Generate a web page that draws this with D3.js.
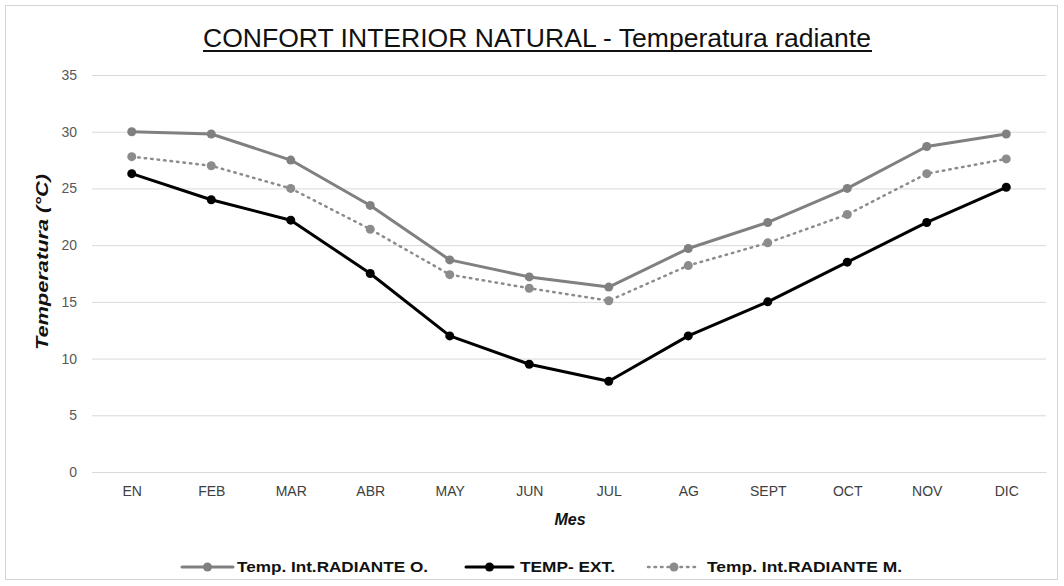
<!DOCTYPE html>
<html>
<head>
<meta charset="utf-8">
<script src="https://cdn.jsdelivr.net/npm/d3@7"></script>
<style>
  html, body { margin: 0; padding: 0; background: #fff; }
  svg { display: block; }
</style>
</head>
<body>
<svg id="chart" width="1064" height="586"></svg>
<script>
// Months on the x axis
const meses = ["EN", "FEB", "MAR", "ABR", "MAY", "JUN", "JUL", "AG", "SEPT", "OCT", "NOV", "DIC"];

// Radiant temperature series (°C)
const radianteO = [30.0, 29.8, 27.5, 23.5, 18.7, 17.2, 16.3, 19.7, 22.0, 25.0, 28.7, 29.8];
const tempExt   = [26.3, 24.0, 22.2, 17.5, 12.0, 9.5, 8.0, 12.0, 15.0, 18.5, 22.0, 25.1];
const radianteM = [27.8, 27.0, 25.0, 21.4, 17.4, 16.2, 15.1, 18.2, 20.2, 22.7, 26.3, 27.6];

// Y axis ticks
const yTicks = [0, 5, 10, 15, 20, 25, 30, 35];

const seriesNames = ["Temp. Int.RADIANTE O.", "TEMP- EXT.", "Temp. Int.RADIANTE M."];

const svg = d3.select("#chart");
const font = "'Liberation Sans Narrow', 'Liberation Sans', Arial, sans-serif";
const fontReg = "'Liberation Sans', Arial, sans-serif";

// Outer frame
svg.append("rect")
  .attr("x", 5.5).attr("y", 5.5).attr("width", 1052).attr("height", 574)
  .attr("fill", "#fff").attr("stroke", "#d4d4d4").attr("stroke-width", 1);

const plot = { left: 92, right: 1046, top: 75, bottom: 472 };

const x = d3.scalePoint().domain(meses).range([plot.left, plot.right]).padding(0.5);
const y = d3.scaleLinear().domain([0, 35]).range([plot.bottom, plot.top]);

// Horizontal gridlines
const yAxis = d3.axisLeft(y).tickValues(yTicks).tickSize(-(plot.right - plot.left)).tickPadding(15);
const gy = svg.append("g").attr("transform", `translate(${plot.left},0)`).call(yAxis);
gy.select(".domain").remove();
gy.selectAll(".tick line").attr("stroke", "#d9d9d9").attr("stroke-width", 1);
gy.selectAll(".tick text")
  .attr("fill", "#595959").attr("font-family", fontReg).attr("font-size", 14);

// X axis labels
const xAxis = d3.axisBottom(x).tickSize(0).tickPadding(14);
const gx = svg.append("g").attr("transform", `translate(0,${plot.bottom})`).call(xAxis);
gx.select(".domain").attr("stroke", "#d9d9d9");
gx.selectAll(".tick text")
  .attr("fill", "#404040").attr("font-family", fontReg).attr("font-size", 14);

// Title
svg.append("text")
  .attr("x", 537).attr("y", 47)
  .attr("text-anchor", "middle")
  .attr("font-family", font).attr("font-size", 26)
  .attr("fill", "#111")
  .attr("textLength", 668).attr("lengthAdjust", "spacingAndGlyphs")
  .text("CONFORT INTERIOR NATURAL - Temperatura radiante");
svg.append("line")
  .attr("x1", 203).attr("x2", 872).attr("y1", 51).attr("y2", 51)
  .attr("stroke", "#111").attr("stroke-width", 2);

// Axis titles
svg.append("text")
  .attr("transform", "translate(48,262) rotate(-90)")
  .attr("text-anchor", "middle")
  .attr("font-family", fontReg).attr("font-size", 16)
  .attr("font-weight", "bold").attr("font-style", "italic")
  .attr("fill", "#111")
  .attr("textLength", 176).attr("lengthAdjust", "spacingAndGlyphs")
  .text("Temperatura (°C)");

svg.append("text")
  .attr("x", 570).attr("y", 525)
  .attr("text-anchor", "middle")
  .attr("font-family", fontReg).attr("font-size", 16)
  .attr("font-weight", "bold").attr("font-style", "italic")
  .attr("fill", "#111")
  .text("Mes");

// Series styles
const series = [
  { name: seriesNames[0], values: radianteO, color: "#808080", width: 3, dash: null, r: 4.5 },
  { name: seriesNames[1], values: tempExt,   color: "#000000", width: 3, dash: null, r: 4.5 },
  { name: seriesNames[2], values: radianteM, color: "#8c8c8c", width: 2.5, dash: "1.5,5", r: 4.5 }
];

const line = d3.line()
  .x((d, i) => x(meses[i]))
  .y(d => y(d));

// Draw order: M dotted, then O, then EXT on top
[series[2], series[0], series[1]].forEach(s => {
  const g = svg.append("g");
  g.append("path")
    .datum(s.values)
    .attr("d", line)
    .attr("fill", "none")
    .attr("stroke", s.color)
    .attr("stroke-width", s.width)
    .attr("stroke-linecap", "round")
    .attr("stroke-linejoin", "round")
    .attr("stroke-dasharray", s.dash);
  g.selectAll("circle")
    .data(s.values)
    .join("circle")
    .attr("cx", (d, i) => x(meses[i]))
    .attr("cy", d => y(d))
    .attr("r", s.r)
    .attr("fill", s.color);
});

// Legend
const legendY = 567;
const legendItems = [
  { s: series[0], x1: 182, x2: 233, tx: 237, tl: 191 },
  { s: series[1], x1: 466, x2: 513, tx: 520, tl: 95 },
  { s: series[2], x1: 648, x2: 700, tx: 707, tl: 195 }
];
legendItems.forEach(it => {
  const g = svg.append("g");
  g.append("line")
    .attr("x1", it.x1).attr("x2", it.x2).attr("y1", legendY).attr("y2", legendY)
    .attr("stroke", it.s.color).attr("stroke-width", it.s.width)
    .attr("stroke-linecap", "round")
    .attr("stroke-dasharray", it.s.dash);
  g.append("circle")
    .attr("cx", (it.x1 + it.x2) / 2).attr("cy", legendY).attr("r", it.s.r)
    .attr("fill", it.s.color);
  g.append("text")
    .attr("x", it.tx).attr("y", legendY + 5)
    .attr("font-family", font).attr("font-size", 15).attr("font-weight", "bold")
    .attr("fill", "#111")
    .attr("textLength", it.tl).attr("lengthAdjust", "spacingAndGlyphs")
    .text(it.s.name);
});
</script>
</body>
</html>
